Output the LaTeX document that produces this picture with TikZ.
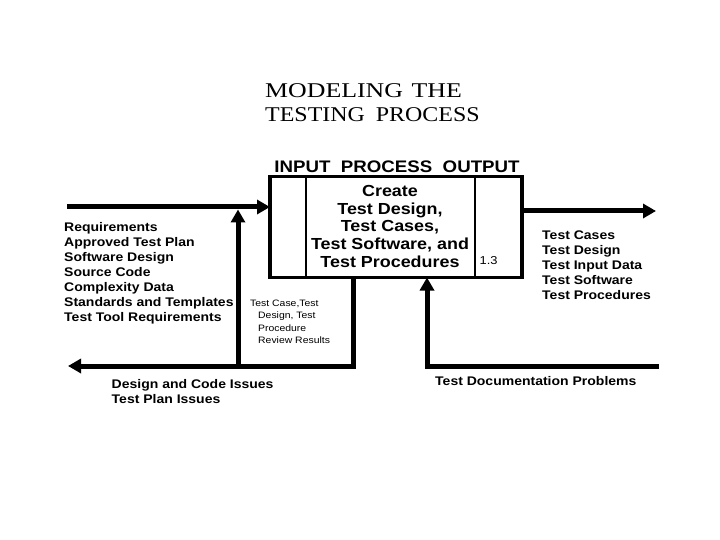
\documentclass[tikz,border=0pt]{standalone}
\usepackage{graphicx}
\usepackage{fontspec}
\setmainfont{Liberation Serif}[FakeStretch=1.14]
\setsansfont{Liberation Sans}[FakeStretch=1.12]
\usetikzlibrary{arrows.meta,positioning,calc}

\begin{document}
\begin{tikzpicture}[
  x=1pt, y=-1pt,
  >={Triangle[length=13pt,width=14pt]},
  flow/.style={line width=5pt},
  sep/.style={line width=2pt},
  lst/.style={anchor=north west, inner sep=0pt, align=left, font=\sffamily\bfseries\fontsize{12.5}{15}\selectfont},
  note/.style={anchor=north west, inner sep=0pt, align=left, font=\sffamily\fontsize{9.3}{12.3}\selectfont}
]
\useasboundingbox (0,0) rectangle (720,540);

% title
\node[anchor=north west, inner sep=0pt, align=left, font=\rmfamily\fontsize{21}{24.4}\selectfont] (title) at (265,83)
  {\scalebox{1.08}[1]{MODELING\hspace{8pt}THE}\\TESTING\hspace{11pt}PROCESS};

% activity box
\node[draw, line width=3.3pt, inner sep=0pt, outer sep=0pt, minimum width=252pt, minimum height=101pt] (proc) at (396,227) {};
\draw[sep] ([xshift=36pt]proc.north west) -- ([xshift=36pt]proc.south west);
\draw[sep] ([xshift=-47pt]proc.north east) -- ([xshift=-47pt]proc.south east);

\node[anchor=north, inner sep=0pt, font=\sffamily\bfseries\fontsize{16.7}{18}\selectfont] (hdr) at (397,160.5)
  {INPUT\ \ PROCESS\ \ OUTPUT};
\node[anchor=north, inner sep=0pt, align=center, font=\sffamily\bfseries\fontsize{16}{17.7}\selectfont] (task) at (390,185)
  {Create\\Test Design,\\Test Cases,\\Test Software, and\\Test Procedures};
\node[anchor=north west, inner sep=0pt, font=\sffamily\fontsize{11.5}{12}\selectfont] (num) at (479.5,256) {1.3};

% inputs and outputs
\coordinate (inS) at (67,207);
\coordinate (outE) at (656,211);
\draw[flow,->] (inS) -- (inS -| proc.west);
\draw[flow,->] (outE -| proc.east) -- (outE);

% feedback loops
\coordinate (mechB) at (353,366);
\coordinate (issE) at (68,366);
\coordinate (revB) at (238,366);
\coordinate (docE) at (659,366);
\coordinate (docB) at (427,366);
\draw[flow,->] (mechB |- proc.south) -- (mechB) -- (issE);
\draw[flow,->, shorten >=2.5pt] (revB) -- (revB |- inS);
\draw[flow,->] (docE) -- (docB) -- (docB |- proc.south);

% labels
\node[lst] (inputs) at (64,222)
  {Requirements\\Approved Test Plan\\Software Design\\Source Code\\Complexity Data\\Standards and Templates\\Test Tool Requirements};
\node[note] (review) at (250,300)
  {Test Case,Test\\\hspace*{8pt}Design, Test\\\hspace*{8pt}Procedure\\\hspace*{8pt}Review Results};
\node[lst] (outputs) at (542,230.5)
  {Test Cases\\Test Design\\Test Input Data\\Test Software\\Test Procedures};
\node[lst] (issues) at (111.5,379.5) {Design and Code Issues\\Test Plan Issues};
\node[lst] (probs) at (435,376) {Test Documentation Problems};

\end{tikzpicture}
\end{document}
